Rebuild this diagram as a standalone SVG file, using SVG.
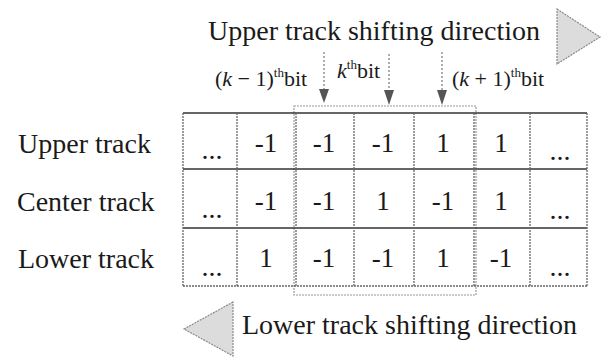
<svg xmlns="http://www.w3.org/2000/svg" width="603" height="358" viewBox="0 0 603 358">
<style>
.t{font-family:"Liberation Serif","Times New Roman",serif;fill:#1a1a1a}
.big{font-size:28px}
.num{font-size:27px;text-anchor:middle}
.dots{font-size:28px;text-anchor:middle}
.bit{font-size:22px}
.hl{stroke:#333;stroke-width:1.3;fill:none}
.vl{stroke:#666;stroke-width:1.3;stroke-dasharray:2 1;fill:none}
.box{stroke:#999;stroke-width:1.2;stroke-dasharray:2 1;fill:none}
.tri{fill:#dcdcdc;stroke:#8a8a8a;stroke-width:1.2;stroke-dasharray:2 1}
.dl{stroke:#777;stroke-width:1.2;stroke-dasharray:2 2}
.head{fill:#555}
</style>
<rect width="603" height="358" fill="#fff"/>

<g id="upper-direction">
<text class="t big" x="208" y="40">Upper track shifting direction</text>
<polygon class="tri" points="557,9 600,37 557,64"/>
</g>

<g id="lower-direction">
<polygon class="tri" points="233,302 184,329 233,356"/>
<text class="t big" x="242" y="334">Lower track shifting direction</text>
</g>

<g id="track-labels">
<text class="t big" x="18" y="153">Upper track</text>
<text class="t big" x="17" y="211">Center track</text>
<text class="t big" x="18" y="268">Lower track</text>
</g>

<g id="bit-window">
<rect class="box" x="294" y="106" width="182" height="189"/>
</g>

<g id="grid">
<line class="hl" x1="183" y1="113" x2="587" y2="113"/>
<line class="hl" x1="183" y1="169" x2="587" y2="169"/>
<line class="hl" x1="183" y1="228" x2="587" y2="228"/>
<line class="vl" x1="183" y1="286" x2="587" y2="286"/>
<line class="vl" x1="183" y1="113" x2="183" y2="286"/>
<line class="vl" x1="237" y1="113" x2="237" y2="286"/>
<line class="vl" x1="296" y1="113" x2="296" y2="286"/>
<line class="vl" x1="354" y1="113" x2="354" y2="286"/>
<line class="vl" x1="414" y1="113" x2="414" y2="286"/>
<line class="vl" x1="474" y1="113" x2="474" y2="286"/>
<line class="vl" x1="530" y1="113" x2="530" y2="286"/>
<line class="vl" x1="587" y1="113" x2="587" y2="286"/>
</g>

<g id="upper-row">
<text class="t dots" x="212" y="159">...</text>
<text class="t num" x="266" y="152">-1</text>
<text class="t num" x="324" y="152">-1</text>
<text class="t num" x="383" y="152">-1</text>
<text class="t num" x="443" y="152">1</text>
<text class="t num" x="501" y="152">1</text>
<text class="t dots" x="560" y="160">...</text>
</g>

<g id="center-row">
<text class="t dots" x="212" y="218">...</text>
<text class="t num" x="266" y="210">-1</text>
<text class="t num" x="324" y="210">-1</text>
<text class="t num" x="383" y="210">1</text>
<text class="t num" x="443" y="210">-1</text>
<text class="t num" x="501" y="210">1</text>
<text class="t dots" x="560" y="219">...</text>
</g>

<g id="lower-row">
<text class="t dots" x="212" y="276">...</text>
<text class="t num" x="266" y="267">1</text>
<text class="t num" x="324" y="267">-1</text>
<text class="t num" x="383" y="267">-1</text>
<text class="t num" x="443" y="267">1</text>
<text class="t num" x="501" y="267">-1</text>
<text class="t dots" x="560" y="276">...</text>
</g>

<g id="bit-labels">
<text class="t bit" x="215" y="86">(<tspan font-style="italic">k</tspan> − 1)<tspan font-size="13" dy="-9">th</tspan><tspan dy="9">bit</tspan></text>
<text class="t bit" x="337" y="78"><tspan font-style="italic">k</tspan><tspan font-size="13" dy="-9">th</tspan><tspan dy="9">bit</tspan></text>
<text class="t bit" x="452" y="86">(<tspan font-style="italic">k</tspan> + 1)<tspan font-size="13" dy="-9">th</tspan><tspan dy="9">bit</tspan></text>
</g>

<g id="connectors">
<line class="dl" x1="324" y1="52" x2="324" y2="90"/>
<polygon class="head" points="319,89 329,89 324,103"/>
<line class="dl" x1="389" y1="54" x2="389" y2="90"/>
<polygon class="head" points="384,90 394,90 389,105"/>
<line class="dl" x1="442" y1="52" x2="442" y2="91"/>
<polygon class="head" points="437,90 447,90 442,105"/>
</g>
</svg>
